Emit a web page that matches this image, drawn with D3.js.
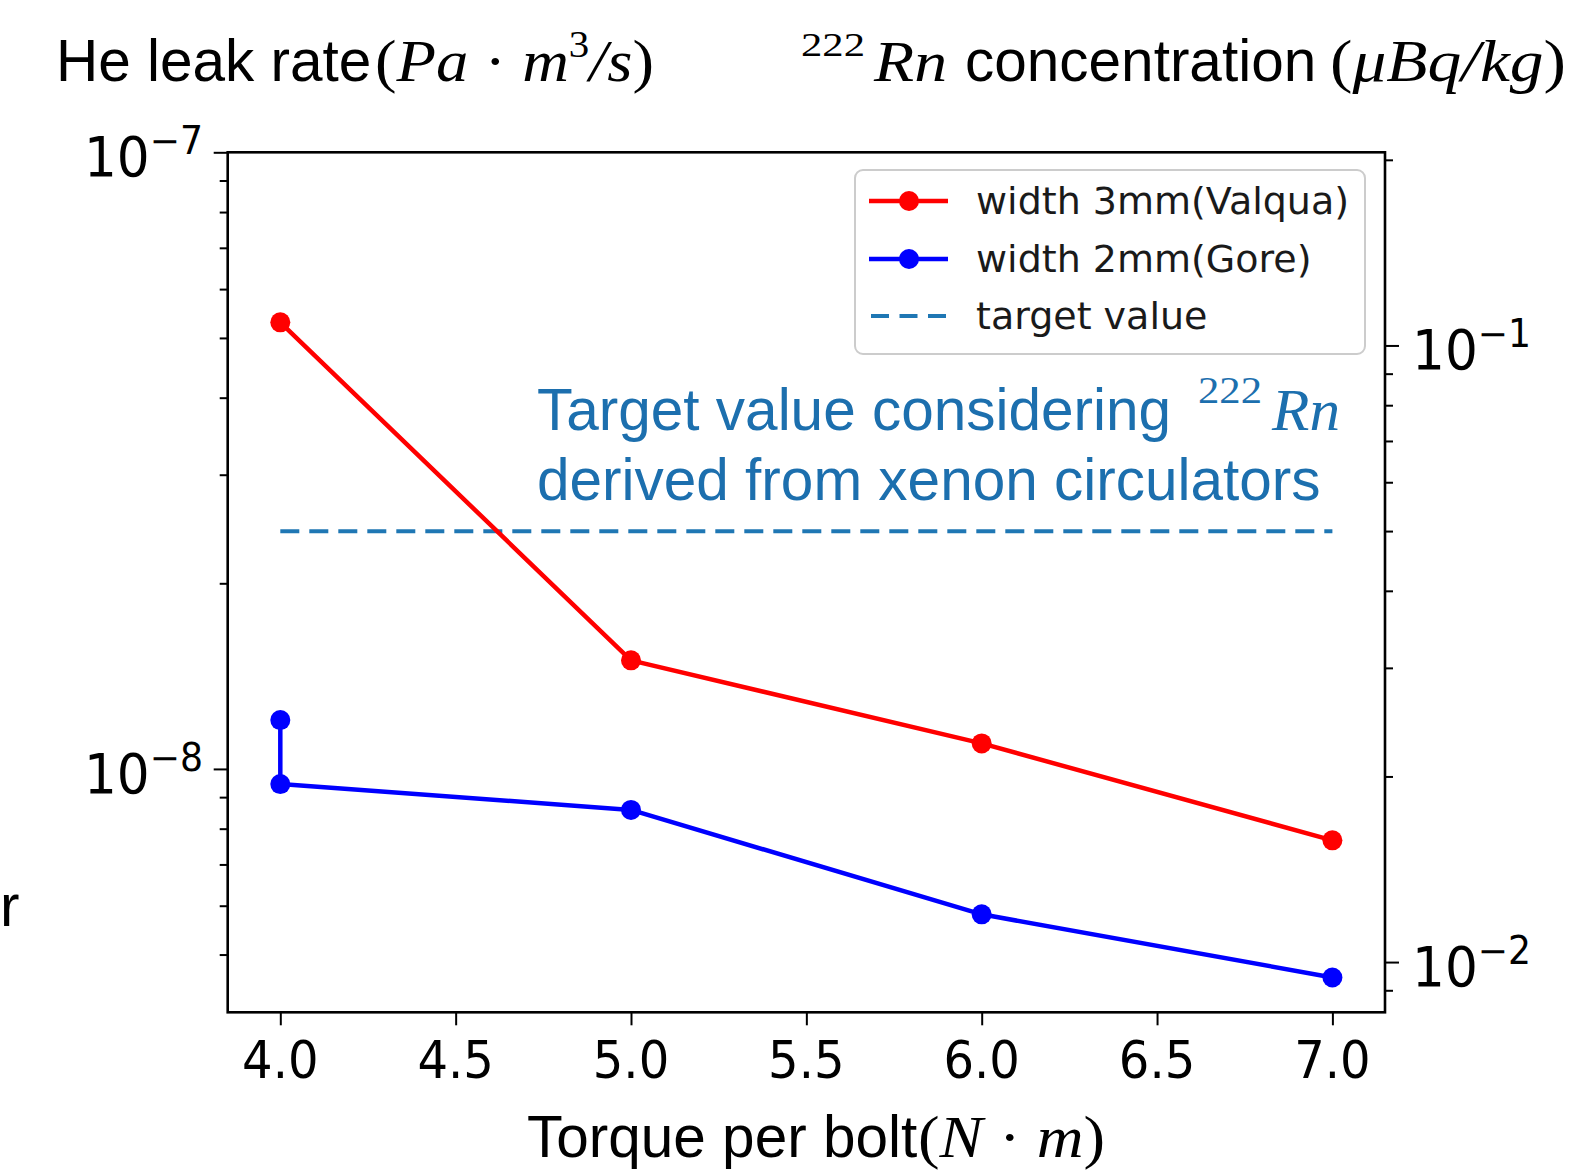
<!DOCTYPE html>
<html><head><meta charset="utf-8">
<script src="https://cdn.jsdelivr.net/npm/d3@7"></script>
<style>body{margin:0;background:#fff}</style>
</head><body>
<svg id="c" width="1590" height="1170" xmlns="http://www.w3.org/2000/svg"></svg>
<script>
// ---------- data ----------
const valquaTorque = [4.0, 5.0, 6.0, 7.0];
const valquaLeak   = [5.30e-8, 1.50e-8, 1.10e-8, 7.66e-9];
const goreTorque   = [4.0, 4.0, 5.0, 6.0, 7.0];
const goreLeak     = [1.20e-8, 9.45e-9, 8.58e-9, 5.81e-9, 4.59e-9];
const targetTorque = [4.0, 7.0];
const targetLeak   = [2.43e-8, 2.43e-8];
const xTickValues  = [4.0, 4.5, 5.0, 5.5, 6.0, 6.5, 7.0];
const xTickLabels  = ["4.0", "4.5", "5.0", "5.5", "6.0", "6.5", "7.0"];
const leftMajorTicks  = [1e-8, 1e-7];
const leftExponents   = ["−8", "−7"];
const rightMajorTicks = [1e-2, 1e-1];
const rightExponents  = ["−2", "−1"];
const legendLabels = ["width 3mm(Valqua)", "width 2mm(Gore)", "target value"];
const rnPerLeak = 2.057e6;   // right axis (Rn concentration) per unit of He leak rate

// ---------- layout ----------
const svg = d3.select("#c");
svg.append("rect").attr("width",1590).attr("height",1170).attr("fill","#fff");
const L = 227.7, R = 1385, T = 152.3, B = 1012.3;
const yDom = [4.03e-9, 1e-7];
const x  = d3.scaleLinear().domain([3.85, 7.15]).range([L, R]);
const y  = d3.scaleLog().domain(yDom).range([B, T]);
const yR = d3.scaleLog().domain(yDom.map(v => v * rnPerLeak)).range([B, T]);

const SANS = "'Liberation Sans', Arial, sans-serif";
const SERIF = "'Liberation Serif', 'Times New Roman', serif";
const DJ = "'DejaVu Sans', sans-serif";
const TARGET_BLUE = "#1f77b4";

// ---------- axes ----------
const isPow10 = v => Math.abs(Math.log10(v) - Math.round(Math.log10(v))) < 1e-6;
const leftMinor = y.ticks().filter(v => !isPow10(v));
const rightMinor = yR.ticks().filter(v => !isPow10(v));

function styleAxis(g){
  g.select(".domain").remove();
  g.selectAll(".tick line").attr("stroke","#000").attr("stroke-width",2);
}
svg.append("g").attr("transform",`translate(${L},0)`)
  .call(d3.axisLeft(y).tickValues(leftMajorTicks).tickSize(14).tickFormat("")).call(styleAxis);
svg.append("g").attr("transform",`translate(${L},0)`)
  .call(d3.axisLeft(y).tickValues(leftMinor).tickSize(8).tickFormat("")).call(styleAxis);
svg.append("g").attr("transform",`translate(${R},0)`)
  .call(d3.axisRight(yR).tickValues(rightMajorTicks).tickSize(14).tickFormat("")).call(styleAxis);
svg.append("g").attr("transform",`translate(${R},0)`)
  .call(d3.axisRight(yR).tickValues(rightMinor).tickSize(8).tickFormat("")).call(styleAxis);
svg.append("g").attr("transform",`translate(0,${B})`)
  .call(d3.axisBottom(x).tickValues(xTickValues).tickSize(13).tickFormat("")).call(styleAxis);

// tick labels
const xl = svg.append("g");
xTickValues.forEach((v,i)=>{
  xl.append("text")
    .attr("transform",`translate(${x(v)},1078) scale(0.925,1)`)
    .attr("text-anchor","middle").attr("font-family",DJ).attr("font-size",52).attr("fill","#000")
    .text(xTickLabels[i]);
});
function powLabel(g, px, py, exp, anchor){
  const t = g.append("text")
    .attr("transform",`translate(${px},${py}) scale(0.94,1)`)
    .attr("text-anchor",anchor).attr("font-family",DJ).attr("fill","#000");
  t.append("tspan").attr("font-size",55).text("10");
  t.append("tspan").attr("font-size",38.5).attr("dy",-22).text(exp);
}
const yl = svg.append("g");
leftMajorTicks.forEach((v,i)=> powLabel(yl, 203, y(v)+24, leftExponents[i], "end"));
rightMajorTicks.forEach((v,i)=> powLabel(yl, 1412, yR(v)+24, rightExponents[i], "start"));

// ---------- data marks ----------
const line = d3.line().x(d=>x(d[0])).y(d=>y(d[1]));
const target = d3.zip(targetTorque, targetLeak);
svg.append("path").datum(target).attr("d",line).attr("fill","none")
  .attr("stroke",TARGET_BLUE).attr("stroke-width",4).attr("stroke-dasharray","19,10");

function series(tx, ty, color){
  const pts = d3.zip(tx, ty);
  svg.append("path").datum(pts).attr("d",line).attr("fill","none")
    .attr("stroke",color).attr("stroke-width",4.5).attr("stroke-linejoin","round");
  svg.append("g").selectAll("circle").data(pts).join("circle")
    .attr("cx",d=>x(d[0])).attr("cy",d=>y(d[1])).attr("r",10).attr("fill",color);
}
series(valquaTorque, valquaLeak, "#ff0000");
series(goreTorque, goreLeak, "#0000ff");

// frame
svg.append("rect").attr("x",L).attr("y",T).attr("width",R-L).attr("height",B-T)
  .attr("fill","none").attr("stroke","#000").attr("stroke-width",2.6);

// ---------- legend ----------
const lg = svg.append("g");
lg.append("rect").attr("x",855).attr("y",170).attr("width",510).attr("height",184).attr("rx",8)
  .attr("fill","#fff").attr("fill-opacity",0.8).attr("stroke","#cccccc").attr("stroke-width",2);
const legendColors = ["#ff0000","#0000ff",TARGET_BLUE];
const rowY = [201, 259, 316];
legendLabels.forEach((lab,i)=>{
  const ly = rowY[i];
  const ln = lg.append("line").attr("x1",869).attr("x2",948).attr("y1",ly).attr("y2",ly)
    .attr("stroke",legendColors[i]).attr("stroke-width",4.5);
  if (i===2) ln.attr("x1",871).attr("x2",946).attr("stroke-width",4).attr("stroke-dasharray","18,10.5");
  else lg.append("circle").attr("cx",909).attr("cy",ly).attr("r",10).attr("fill",legendColors[i]);
  lg.append("text").attr("x",976).attr("y",ly+13).attr("font-family",DJ).attr("font-size",38)
    .attr("fill","#1a1a1a").text(lab);
});

// ---------- annotation text ----------
function mathText(px, py, size, width, parts, color){
  const t = svg.append("text").attr("x",px).attr("y",py).attr("font-family",SERIF)
    .attr("font-size",size).attr("fill",color||"#000");
  parts.forEach(p=>{
    const s = t.append("tspan").text(p.t);
    if (p.i) s.attr("font-style","italic");
    if (p.dy) s.attr("dy",p.dy);
    if (p.fs) s.attr("font-size",p.fs);
  });
  if (width) t.attr("textLength",width).attr("lengthAdjust","spacingAndGlyphs");
  return t;
}
function sans(px, py, str, color){
  return svg.append("text").attr("x",px).attr("y",py).attr("font-family",SANS)
    .attr("font-size",58.5).attr("fill",color||"#000").text(str);
}

// left title
sans(56, 81, "He leak rate");
mathText(375, 81, 60, 279, [{t:"("},{t:"Pa",i:1},{t:" · "},{t:"m",i:1},{t:"3",fs:38,dy:-24},{t:"/s",i:1,dy:24},{t:")"}]);
// right title
mathText(801, 56, 34, 64, [{t:"222"}]);
mathText(874, 81, 58, 73, [{t:"Rn",i:1}]);
sans(965, 81, "concentration");
mathText(1330, 81, 60, 236, [{t:"("},{t:"μBq/kg",i:1},{t:")"}]);

// annotation inside plot
const AC = "#1c6fae";
sans(537, 430, "Target value considering", AC);
mathText(1198, 403, 38, 64, [{t:"222"}], AC);
mathText(1272, 430, 60, 68, [{t:"Rn",i:1}], AC);
sans(537, 500, "derived from xenon circulators", AC);

// x axis label
sans(527, 1157, "Torque per bolt");
mathText(918, 1157, 60, 187, [{t:"("},{t:"N",i:1},{t:" · "},{t:"m",i:1},{t:")"}]);

// fragment of a text at the left edge
sans(0, 926, "r");
</script>
</body></html>
